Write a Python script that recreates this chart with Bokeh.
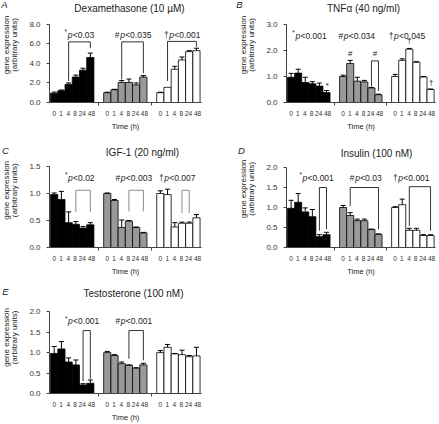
import math
from bokeh.plotting import figure
from bokeh.models import Range1d, FixedTicker, Label, ColumnDataSource, NumeralTickFormatter
from bokeh.layouts import column, row
from bokeh.embed import file_html
from bokeh.resources import INLINE

# ---------------- data ----------------
times = ["0", "1", "4", "8", "24", "48"]

dex_black = [0.95, 1.2, 1.85, 2.6, 3.3, 4.6]
dex_black_err = [0.12, 0.08, 0.15, 0.2, 0.2, 0.45]
dex_gray = [1.0, 1.3, 2.05, 2.05, 1.8, 2.6]
dex_gray_err = [0.05, 0.05, 0.2, 0.35, 0.2, 0.15]
dex_white = [1.0, 1.55, 3.4, 4.35, 5.2, 5.3]
dex_white_err = [0.05, 0.0, 0.3, 0.3, 0.1, 0.25]

tnf_black = [0.97, 1.13, 0.77, 0.72, 0.63, 0.38]
tnf_black_err = [0.15, 0.15, 0.2, 0.08, 0.12, 0.08]
tnf_gray = [1.0, 1.5, 0.82, 0.79, 0.56, 0.3]
tnf_gray_err = [0.05, 0.12, 0.15, 0.06, 0.02, 0.02]
tnf_white = [1.0, 1.62, 2.05, 1.55, 0.98, 0.5]
tnf_white_err = [0.08, 0.06, 0.03, 0.02, 0.02, 0.02]

igf_black = [0.98, 0.89, 0.46, 0.43, 0.36, 0.42]
igf_black_err = [0.03, 0.15, 0.2, 0.05, 0.03, 0.04]
igf_gray = [1.0, 0.87, 0.37, 0.49, 0.37, 0.27]
igf_gray_err = [0.01, 0.02, 0.14, 0.01, 0.01, 0.01]
igf_white = [1.0, 0.98, 0.38, 0.45, 0.45, 0.55]
igf_white_err = [0.05, 0.1, 0.08, 0.02, 0.02, 0.06]

ins_black = [0.98, 1.13, 0.89, 0.77, 0.27, 0.32]
ins_black_err = [0.2, 0.22, 0.1, 0.18, 0.05, 0.06]
ins_gray = [1.0, 0.8, 0.67, 0.67, 0.45, 0.33]
ins_gray_err = [0.05, 0.07, 0.04, 0.04, 0.01, 0.01]
ins_white = [1.0, 1.07, 0.43, 0.43, 0.3, 0.3]
ins_white_err = [0.02, 0.14, 0.05, 0.05, 0.02, 0.02]

tes_black = [0.98, 1.09, 0.77, 0.7, 0.21, 0.25]
tes_black_err = [0.17, 0.18, 0.1, 0.12, 0.03, 0.08]
tes_gray = [1.0, 0.93, 0.73, 0.69, 0.62, 0.7]
tes_gray_err = [0.03, 0.02, 0.04, 0.01, 0.01, 0.04]
tes_white = [1.0, 1.13, 0.97, 0.95, 0.9, 0.92]
tes_white_err = [0.05, 0.07, 0.01, 0.11, 0.03, 0.21]

dex_yticks = [0, 2, 4, 6, 8]
tnf_yticks = [0, 1, 2, 3]
igf_yticks = [0, 0.5, 1.0, 1.5]
ins_yticks = [0, 0.5, 1.0, 1.5, 2.0]
tes_yticks = [0, 0.5, 1.0, 1.5, 2.0]

# significance: (group, symbol, p-text)
dex_sig = [(0, "*", "<0.03"), (1, "#", "<0.035"), (2, "\u2020", "<0.001")]
tnf_sig = [(0, "*", "<0.001"), (1, "#", "<0.034"), (2, "\u2020", "<0.045")]
igf_sig = [(0, "*", "<0.02"), (1, "#", "<0.003"), (2, "\u2020", "<0.007")]
ins_sig = [(0, "*", "<0.001"), (1, "#", "<0.03"), (2, "\u2020", "<0.001")]
tes_sig = [(0, "*", "<0.001"), (1, "#", "<0.001")]

# comparison brackets: (group, first bar, last bar, level, left foot, right foot)
dex_br = [(0, 2, 5, 6.2, 2.2, 5.55), (1, 2, 5, 6.2, 2.35, 3.0), (2, 1, 5, 6.25, 2.2, 5.7)]
tnf_br = [(1, 4, 5, 1.6, 0.62, 0.45)]
igf_br = [(0, 3, 5, 1.06, 0.66, 0.66), (1, 3, 5, 1.06, 0.67, 0.67), (2, 3, 4, 1.06, 0.64, 0.64)]
ins_br = [(0, 4, 5, 1.5, 0.42, 0.46), (1, 1, 5, 1.5, 1.04, 0.46), (2, 2, 5, 1.52, 0.54, 0.42)]
tes_br = [(0, 4, 5, 1.54, 0.3, 0.36), (1, 3, 5, 1.54, 0.85, 0.81)]

# single markers: (group, bar position, symbol, level)
tnf_marks = [(0, 5.1, "*", 0.65), (1, 1, "#", 1.9), (1, 4.5, "#", 1.9),
             (2, 2, "\u2020", 2.37), (2, 5.1, "\u2020", 0.78)]

# ---------------- styling / layout ----------------
FONT = "Liberation Sans"
TXT = "#222222"
BW = 20
GS = 147
X0, X1 = -3, 418
FILLS = ["#000000", "#999999", "#ffffff"]
LABEL_POS = [10, 29, 49, 68, 88, 113]


def centers(g):
    return [g * GS + i * BW + BW // 2 for i in range(6)]


def make_panel(W, H, bl, top_px, fw, fh, ymax, yticks, series, brs, sigs, sig_pos,
               title, title_dx, title_up, br_color="#333333", marks=()):
    # frame reaches the top of the canvas; the y axis is bounded to [0, ymax]
    sy = fh / ymax
    ytop = ymax + top_px / sy
    p = figure(width=W, height=H, x_range=Range1d(X0, X1), y_range=Range1d(0, ytop),
               output_backend="svg", toolbar_location=None, tools="")
    p.min_border_left = bl
    p.min_border_top = 0
    p.min_border_right = W - bl - fw
    p.min_border_bottom = H - top_px - fh
    p.outline_line_color = None
    p.xgrid.visible = False
    p.ygrid.visible = False
    p.background_fill_color = "white"
    p.border_fill_color = "white"

    sx = fw / (X1 - X0)

    def px2x(dx):
        return X0 + dx / sx

    for g, (vals, errs) in enumerate(series):
        cx = centers(g)
        src = ColumnDataSource(dict(x=cx, top=vals))
        p.vbar(x="x", top="top", width=BW, bottom=0, source=src,
               fill_color=FILLS[g], line_color="black", line_width=0.8)
        ex = [c for c, e in zip(cx, errs) if e > 0]
        ev = [v for v, e in zip(vals, errs) if e > 0]
        ee = [v + e for v, e in zip(vals, errs) if e > 0]
        esrc = ColumnDataSource(dict(x=ex, y0=ev, y1=ee,
                                     xl=[c - 7 for c in ex], xr=[c + 7 for c in ex]))
        p.segment(x0="x", y0="y0", x1="x", y1="y1", source=esrc, line_color="black", line_width=1)
        p.segment(x0="xl", y0="y1", x1="xr", y1="y1", source=esrc, line_color="black", line_width=1)

    xs, ys = [], []
    for g, i0, i1, lev, lf, rf in brs:
        c = centers(g)
        xs.append([c[i0], c[i0], c[i1], c[i1]])
        ys.append([lf, lev, lev, rf])
    if xs:
        p.multi_line(xs=xs, ys=ys, line_color=br_color, line_width=1)

    for (g, sym, txt), (xr, yb) in zip(sigs, sig_pos):
        x = g * GS + xr * BW
        if sym == "*":
            wsym = 2.6
            p.add_layout(Label(x=x, y=yb + 3.2 / sy, text=sym, text_font=FONT, text_font_size="6.5px",
                               text_color=TXT, text_align="left", text_baseline="alphabetic"))
        else:
            wsym = 4.7
            p.add_layout(Label(x=x, y=yb, text=sym, text_font=FONT, text_font_size="8.5px",
                               text_color=TXT, text_align="left", text_baseline="alphabetic"))
        xp = x + (wsym + 0.6) / sx
        p.add_layout(Label(x=xp, y=yb, text="p", text_font=FONT, text_font_size="8.5px",
                           text_font_style="italic", text_color=TXT,
                           text_align="left", text_baseline="alphabetic"))
        xq = xp + 5.0 / sx
        p.add_layout(Label(x=xq, y=yb, text=txt, text_font=FONT, text_font_size="8.5px",
                           text_color=TXT, text_align="left", text_baseline="alphabetic"))

    for g, i, sym, lev in marks:
        p.add_layout(Label(x=g * GS + i * BW + BW / 2, y=lev, text=sym, text_font=FONT,
                           text_font_size="8px", text_color=TXT, text_align="center",
                           text_baseline="middle"))

    p.add_layout(Label(x=px2x(title_dx), y=ymax + title_up / sy, text=title, text_font=FONT,
                       text_font_size="10px", text_color=TXT, text_align="center",
                       text_baseline="middle"))

    ya = p.yaxis[0]
    ya.ticker = FixedTicker(ticks=yticks)
    ya.bounds = (0, ymax)
    ya.formatter = NumeralTickFormatter(format="0.0")
    ya.major_tick_out = 3
    ya.major_tick_in = 0
    ya.minor_tick_out = 0
    ya.minor_tick_in = 0
    ya.axis_line_color = "#444444"
    ya.major_tick_line_color = "#444444"
    ya.major_label_text_font = FONT
    ya.major_label_text_font_size = "8px"
    ya.major_label_text_color = "#333333"
    ya.major_label_standoff = 6

    xa = p.xaxis[0]
    lab = [g * GS + o for g in range(3) for o in LABEL_POS]
    xa.ticker = FixedTicker(ticks=lab, minor_ticks=[g * GS + 133.5 for g in range(2)])
    xa.major_label_overrides = {c: times[k % 6] for k, c in enumerate(lab)}
    xa.major_tick_out = 0
    xa.major_tick_in = 0
    xa.minor_tick_out = 3
    xa.minor_tick_in = 0
    xa.axis_line_color = "#444444"
    xa.minor_tick_line_color = "#444444"
    xa.major_label_text_font = FONT
    xa.major_label_text_font_size = "6.5px"
    xa.major_label_text_color = "#333333"
    xa.major_label_standoff = 5
    xa.axis_label = "Time (h)"
    xa.axis_label_text_font = FONT
    xa.axis_label_text_font_size = "7.5px"
    xa.axis_label_text_font_style = "normal"
    xa.axis_label_text_color = TXT
    xa.axis_label_standoff = 3
    return p


def gutter(W, H, letter, letter_x, letter_top, ylab_x, ylab_top):
    g = figure(width=W, height=H, x_range=Range1d(0, W), y_range=Range1d(0, H),
               output_backend="svg", toolbar_location=None, tools="",
               x_axis_type=None, y_axis_type=None, min_border=0)
    g.outline_line_color = None
    g.background_fill_color = "white"
    g.border_fill_color = "white"
    g.add_layout(Label(x=letter_x, y=H - letter_top, text=letter, text_font=FONT,
                       text_font_size="9.5px", text_font_style="italic", text_color=TXT,
                       text_align="center", text_baseline="middle"))
    for x, t in zip(ylab_x, ["gene expression", "(arbitrary units)"]):
        g.add_layout(Label(x=x, y=H - ylab_top, text=t, text_font=FONT, text_font_size="8px",
                           text_color=TXT, text_align="center", text_baseline="middle",
                           angle=math.pi / 2, angle_units="rad"))
    return g


LGW, RGW = 20, 26
LW, RW = 212, 181
LBL, LFW = 29, 152
RBL, RFW = 28, 149

pA = make_panel(LW, 140, LBL, 24, LFW, 79, 8, dex_yticks,
                [(dex_black, dex_black_err), (dex_gray, dex_gray_err), (dex_white, dex_white_err)],
                dex_br, dex_sig, [(1.94, 6.9), (8.9 - 7.35, 6.9), (15.7 - 14.7, 6.9)],
                "Dexamethasone (10 \u00b5M)", 80, 16)
pB = make_panel(RW, 140, RBL, 24, RFW, 78, 3, tnf_yticks,
                [(tnf_black, tnf_black_err), (tnf_gray, tnf_gray_err), (tnf_white, tnf_white_err)],
                tnf_br, tnf_sig, [(0.66, 2.56), (7.2 - 7.35, 2.56), (14.3 - 14.7, 2.56)],
                "TNF\u03b1 (40 ng/ml)", 77, 16, marks=tnf_marks)
pC = make_panel(LW, 144, LBL, 27, LFW, 84, 1.5, igf_yticks,
                [(igf_black, igf_black_err), (igf_gray, igf_gray_err), (igf_white, igf_white_err)],
                igf_br, igf_sig, [(1.98, 1.29), (9.0 - 7.35, 1.29), (15.0 - 14.7, 1.29)],
                "IGF-1 (20 ng/ml)", 93, 15, br_color="#8a8a8a")
pD = make_panel(RW, 144, RBL, 27, RFW, 80, 2.0, ins_yticks,
                [(ins_black, ins_black_err), (ins_gray, ins_gray_err), (ins_white, ins_white_err)],
                ins_br, ins_sig, [(1.67, 1.75), (8.8 - 7.35, 1.75), (14.9 - 14.7, 1.75)],
                "Insulin (100 nM)", 90, 14)
pE = make_panel(LW, 140, LBL, 28, LFW, 84, 2.0, tes_yticks,
                [(tes_black, tes_black_err), (tes_gray, tes_gray_err), (tes_white, tes_white_err)],
                tes_br, tes_sig, [(1.98, 1.77), (9.0 - 7.35, 1.77)],
                "Testosterone (100 nM)", 84, 19)

gA = gutter(LGW, 140, "A", 4, 5, (6, 14), 61)
gB = gutter(RGW, 140, "B", 7, 5, (11, 19), 61)
gC = gutter(LGW, 144, "C", 5, 13, (6, 14), 67)
gD = gutter(RGW, 144, "D", 9, 13, (11, 19), 65)
gE = gutter(LGW, 140, "E", 5, 9, (6, 14), 68)

layout = column(row(gA, pA, gB, pB), row(gC, pC, gD, pD), row(gE, pE))

open("out.html", "w").write(file_html(layout, INLINE))
